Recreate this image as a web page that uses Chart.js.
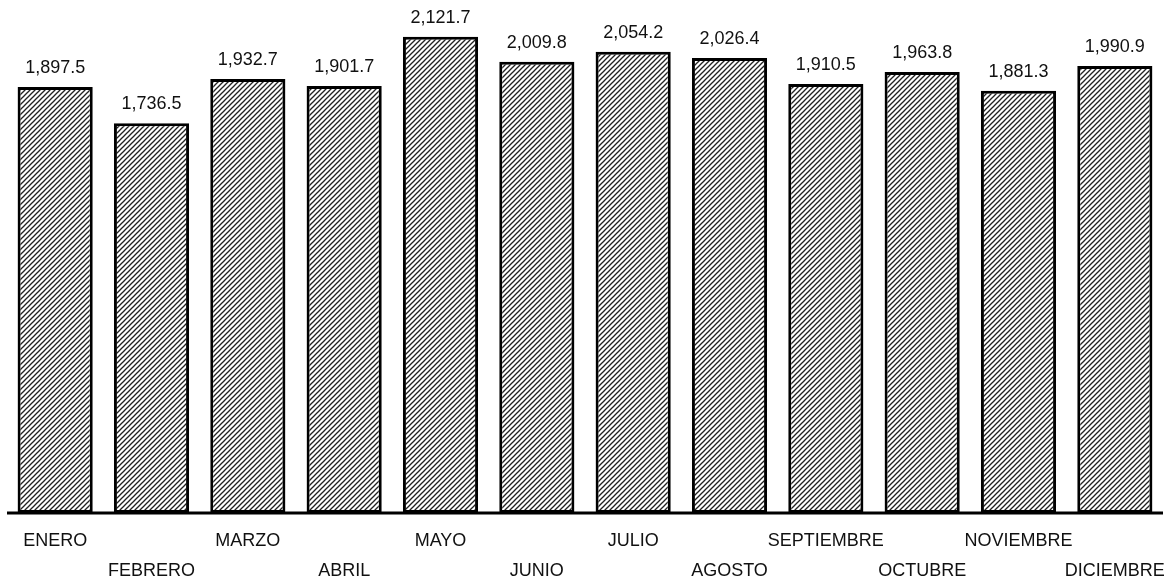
<!DOCTYPE html>
<html>
<head>
<meta charset="utf-8">
<script src="https://cdn.jsdelivr.net/npm/chart.js@4/dist/chart.umd.min.js"></script>
<style>
html,body{margin:0;padding:0;background:#fff;}
#wrap{width:1172px;height:581px;position:relative;}
</style>
</head>
<body>
<div id="wrap"><canvas id="c" width="1172" height="581"></canvas></div>
<script>
const categories = ["ENERO","FEBRERO","MARZO","ABRIL","MAYO","JUNIO","JULIO","AGOSTO","SEPTIEMBRE","OCTUBRE","NOVIEMBRE","DICIEMBRE"];
const values = [1897.5,1736.5,1932.7,1901.7,2121.7,2009.8,2054.2,2026.4,1910.5,1963.8,1881.3,1990.9];

function makePattern(){
  const p = 5;
  const t = document.createElement('canvas');
  t.width = p; t.height = p;
  const g = t.getContext('2d');
  g.fillStyle = '#fff'; g.fillRect(0,0,p,p);
  g.strokeStyle = '#222'; g.lineWidth = 1.3;
  [[-1,1,1,-1],[-1,p+1,p+1,-1],[p-1,p+1,p+1,p-1]].forEach(l=>{g.beginPath();g.moveTo(l[0],l[1]);g.lineTo(l[2],l[3]);g.stroke();});
  return document.getElementById('c').getContext('2d').createPattern(t,'repeat');
}

const fmt = v => v.toLocaleString('en-US',{minimumFractionDigits:1,maximumFractionDigits:1});
const FONT = '18px "Liberation Sans", Arial, sans-serif';

const labelPlugin = {
  id:'labels',
  afterDatasetsDraw(chart){
    const ctx = chart.ctx;
    const meta = chart.getDatasetMeta(0);
    const xs = chart.scales.x;
    const a = chart.chartArea;
    ctx.save();
    ctx.strokeStyle = '#000';
    ctx.lineWidth = 3;
    ctx.beginPath();
    ctx.moveTo(a.left, a.bottom);
    ctx.lineTo(a.right, a.bottom);
    ctx.stroke();
    ctx.font = FONT;
    ctx.fillStyle = '#111';
    ctx.textAlign = 'center';
    ctx.textBaseline = 'alphabetic';
    meta.data.forEach((bar,i)=>{
      ctx.fillText(fmt(values[i]), bar.x, bar.y - 14);
    });
    categories.forEach((c,i)=>{
      const x = xs.getPixelForValue(i);
      ctx.fillText(c, x, i%2===0 ? 546 : 576);
    });
    ctx.restore();
  }
};

new Chart(document.getElementById('c'),{
  type:'bar',
  data:{labels:categories,datasets:[{data:values,backgroundColor:makePattern(),borderColor:'#000',borderWidth:3,borderSkipped:false,categoryPercentage:1,barPercentage:0.78}]},
  options:{
    responsive:false,animation:false,devicePixelRatio:1,
    layout:{padding:{left:7,right:9,top:0,bottom:68}},
    plugins:{legend:{display:false},tooltip:{enabled:false}},
    scales:{
      x:{display:false},
      y:{display:false,min:0,max:2285}
    }
  },
  plugins:[labelPlugin]
});
</script>
</body>
</html>
